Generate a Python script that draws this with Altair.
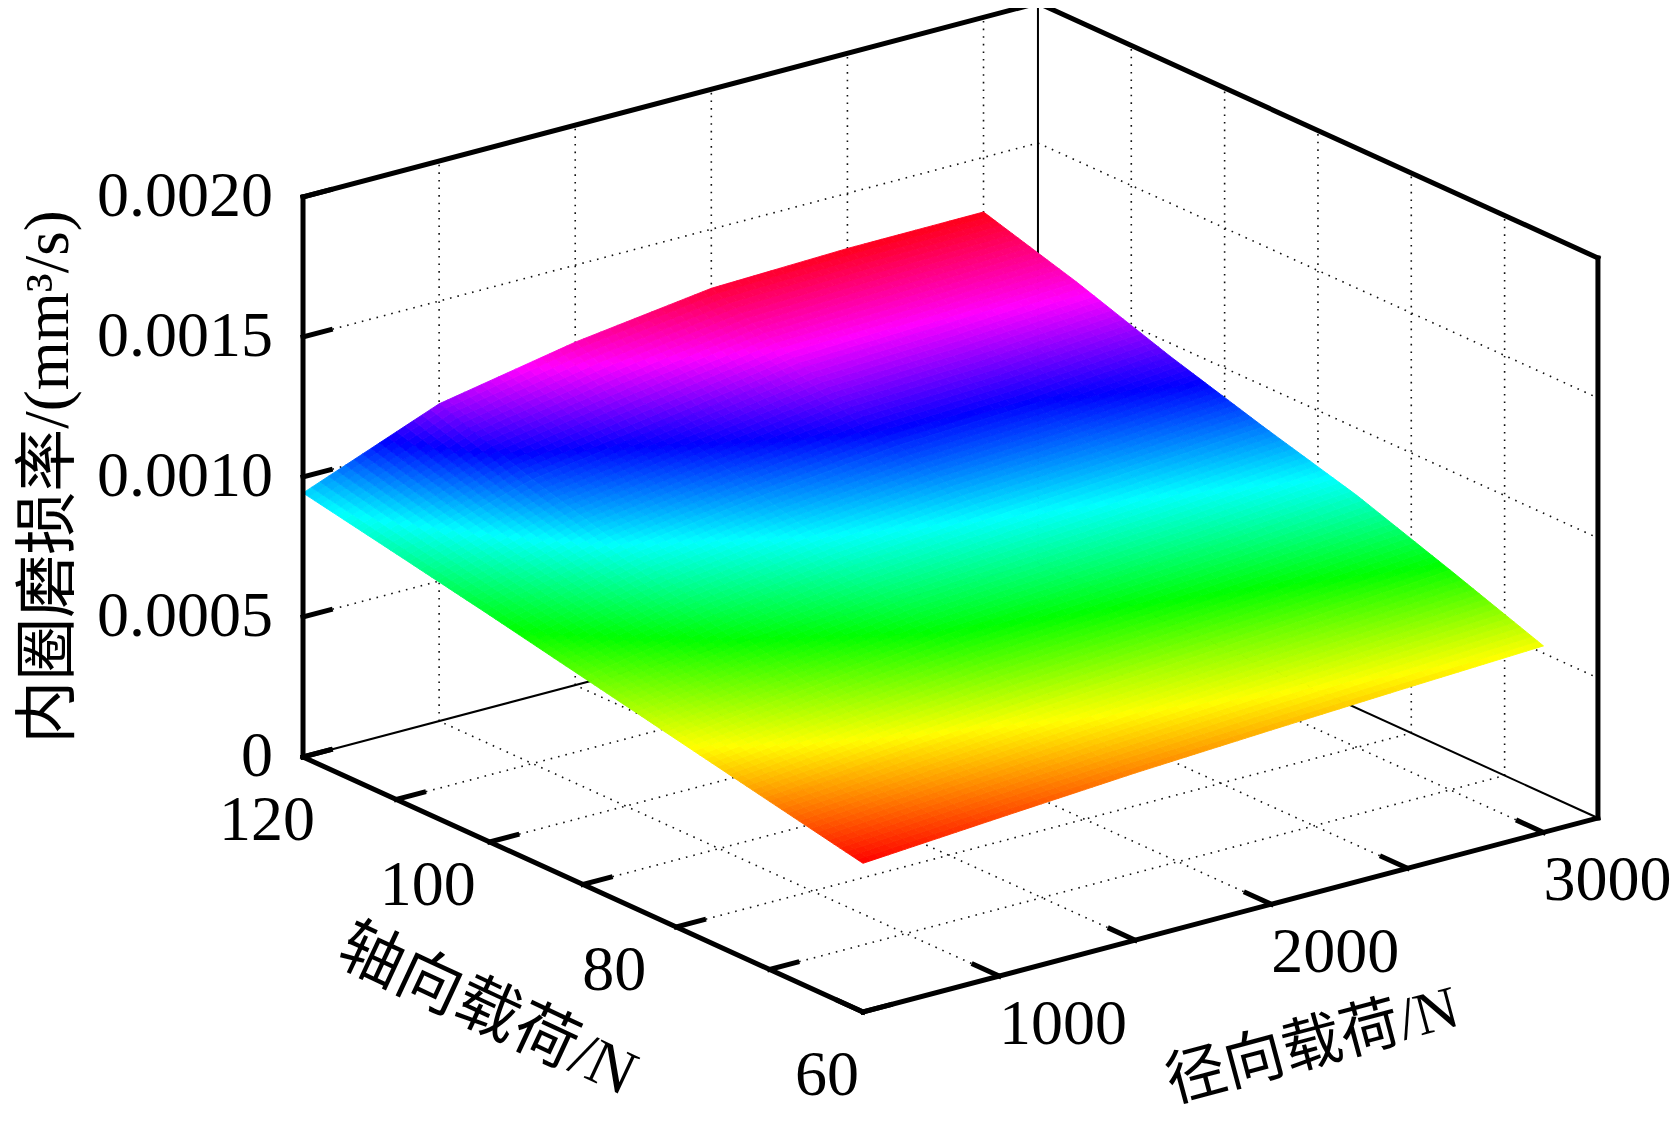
import colorsys
import numpy as np
import pandas as pd
import altair as alt

# ---------------- data ----------------
AXIAL = [60, 70, 80, 90, 100, 110, 120]            # 轴向载荷 / N
RADIAL = [500, 1000, 1500, 2000, 2500, 3000]       # 径向载荷 / N
# 内圈磨损率 (mm^3/s), one list per axial load, values along RADIAL
WEAR_A60 = [0.000531, 0.000565, 0.000597, 0.000622, 0.000645, 0.000666]
WEAR_A70 = [0.000600, 0.000640, 0.000678, 0.000712, 0.000747, 0.000785]
WEAR_A80 = [0.000670, 0.000730, 0.000790, 0.000823, 0.000857, 0.000900]
WEAR_A90 = [0.000740, 0.000821, 0.000885, 0.000925, 0.000957, 0.000993]
WEAR_A100 = [0.000810, 0.000916, 0.000980, 0.001031, 0.001052, 0.001093]
WEAR_A110 = [0.000877, 0.001015, 0.001084, 0.001158, 0.001177, 0.001206]
WEAR_A120 = [0.000943, 0.001133, 0.001225, 0.001289, 0.001303, 0.001305]
WEAR = [WEAR_A60, WEAR_A70, WEAR_A80, WEAR_A90, WEAR_A100, WEAR_A110, WEAR_A120]

AXIAL_LIM = [60, 120]
RADIAL_LIM = [500, 3200]
Z_LIM = [0.0, 0.002]
AXIAL_TICKS = [60, 70, 80, 90, 100, 110, 120]
AXIAL_LABELS = ["60", "80", "100", "120"]
RADIAL_TICKS = [500, 1000, 1500, 2000, 2500, 3000]
RADIAL_LABELS = ["1000", "2000", "3000"]
Z_TICKS = [0.0, 0.0005, 0.0010, 0.0015, 0.0020]
Z_LABELS = ["0", "0.0005", "0.0010", "0.0015", "0.0020"]
Z_TITLE = "内圈磨损率/(mm³/s)"
AXIAL_TITLE = "轴向载荷/N"
RADIAL_TITLE = "径向载荷/N"

# ---------------- orthographic 3-D view (layout) ----------------
ORIGIN = (863.0, 1012.0)          # screen point of (60 N, 500 N, 0)
PER_AXIAL = (-9.333, -4.25)       # screen shift per +1 N axial
PER_RADIAL = (0.2722, -0.07185)   # screen shift per +1 N radial
PER_Z = -280000.0                 # screen y per +1 mm^3/s


def proj(a, r, z):
    da = a - AXIAL_LIM[0]
    dr = r - RADIAL_LIM[0]
    x = ORIGIN[0] + da * PER_AXIAL[0] + dr * PER_RADIAL[0]
    y = ORIGIN[1] + da * PER_AXIAL[1] + dr * PER_RADIAL[1] + z * PER_Z
    return round(x, 2), round(y, 2)


# ---------------- surface (MATLAB "shading interp" emulation) ----------------
A = np.array(AXIAL, float)
R = np.array(RADIAL, float)
Z = np.array(WEAR, float)
NSUB = 16
poly_rows = []
pid = 0
for i in reversed(range(len(A) - 1)):
    for j in reversed(range(len(R) - 1)):
        z00, z10, z01, z11 = Z[i, j], Z[i + 1, j], Z[i, j + 1], Z[i + 1, j + 1]

        def bil(s, t):
            return z00 * (1 - s) * (1 - t) + z10 * s * (1 - t) + z01 * (1 - s) * t + z11 * s * t

        for p in range(NSUB):
            for q in range(NSUB):
                s0, s1 = p / NSUB, (p + 1) / NSUB
                t0, t1 = q / NSUB, (q + 1) / NSUB
                val = round(bil((s0 + s1) / 2, (t0 + t1) / 2), 8)
                for k, (s, t) in enumerate([(s0, t0), (s1, t0), (s1, t1), (s0, t1)]):
                    a = A[i] + s * (A[i + 1] - A[i])
                    r = R[j] + t * (R[j + 1] - R[j])
                    x, y = proj(a, r, bil(s, t))
                    poly_rows.append({"pid": pid, "k": k, "x": x, "y": y, "v": val})
                pid += 1
surf_df = pd.DataFrame(poly_rows)

# MATLAB hsv colormap spread over the data range
zmin, zmax = float(Z.min()), float(Z.max())
HUE_TOP = 63.0 / 64.0
stops, cols = [], []
for h in [0, 1 / 6, 2 / 6, 3 / 6, 4 / 6, 5 / 6, HUE_TOP]:
    rr, gg, bb = colorsys.hsv_to_rgb(h, 1.0, 1.0)
    stops.append(zmin + (zmax - zmin) * h / HUE_TOP)
    cols.append("#%02x%02x%02x" % (int(round(rr * 255)), int(round(gg * 255)), int(round(bb * 255))))
cscale = alt.Scale(type="linear", domain=stops, range=cols, interpolate="rgb")

# ---------------- box, grid, ticks ----------------
a0, a1 = AXIAL_LIM
r0, r1 = RADIAL_LIM
zb, zt = Z_LIM


def seg(p, q, kind):
    x, y = proj(*p)
    x2, y2 = proj(*q)
    return {"x": x, "y": y, "x2": x2, "y2": y2, "kind": kind}


segs = []
for a in AXIAL_TICKS:
    if a0 < a < a1:
        segs.append(seg((a, r0, zb), (a, r1, zb), "grid"))
        segs.append(seg((a, r1, zb), (a, r1, zt), "grid"))
for r in RADIAL_TICKS:
    if r0 < r < r1:
        segs.append(seg((a0, r, zb), (a1, r, zb), "grid"))
        segs.append(seg((a1, r, zb), (a1, r, zt), "grid"))
for z in Z_TICKS:
    if zb < z < zt:
        segs.append(seg((a1, r0, z), (a1, r1, z), "grid"))
        segs.append(seg((a1, r1, z), (a0, r1, z), "grid"))
segs.append(seg((a1, r0, zb), (a1, r1, zb), "thin"))
segs.append(seg((a0, r1, zb), (a1, r1, zb), "thin"))
segs.append(seg((a1, r1, zb), (a1, r1, zt), "thin"))
segs.append(seg((a0, r0, zb), (a1, r0, zb), "thick"))
segs.append(seg((a0, r0, zb), (a0, r1, zb), "thick"))
segs.append(seg((a1, r0, zb), (a1, r0, zt), "thick"))
segs.append(seg((a1, r0, zt), (a1, r1, zt), "thick"))
segs.append(seg((a1, r1, zt), (a0, r1, zt), "thick"))
segs.append(seg((a0, r1, zb), (a0, r1, zt), "thick"))
TICK_R = 100.0
TICK_A = 2.7
for a in AXIAL_TICKS:
    segs.append(seg((a, r0, zb), (a, r0 + TICK_R, zb), "thick"))
for r in RADIAL_TICKS:
    segs.append(seg((a0, r, zb), (a0 + TICK_A, r, zb), "thick"))
for z in Z_TICKS:
    segs.append(seg((a1, r0, z), (a1, r0 + TICK_R, z), "thick"))
seg_df = pd.DataFrame(segs)

# ---------------- texts ----------------
texts = []
for lab in Z_LABELS:
    x, y = proj(a1, r0, float(lab))
    texts.append({"x": x - 30, "y": y, "t": lab, "al": "right", "ang": 0, "fs": 64})
for lab in AXIAL_LABELS:
    x, y = proj(float(lab), r0, zb)
    at_corner = float(lab) in (a0, a1)          # corner labels sit lower, clear of the z labels
    dx, dy = (-36, 64) if at_corner else (-62, 44)
    texts.append({"x": x + dx, "y": y + dy, "t": lab, "al": "center", "ang": 0, "fs": 64})
for lab in RADIAL_LABELS:
    x, y = proj(a0, float(lab), zb)
    texts.append({"x": x + 64, "y": y + 49, "t": lab, "al": "center", "ang": 0, "fs": 64})
x, y = proj(a1, r0, (zb + zt) / 2)
texts.append({"x": x - 254, "y": y, "t": Z_TITLE, "al": "center", "ang": 270, "fs": 63})
x, y = proj((a0 + a1) / 2, r0, zb)
texts.append({"x": x - 96, "y": y + 127, "t": AXIAL_TITLE, "al": "center", "ang": 25, "fs": 64})
x, y = proj(a0, 1850, zb)
texts.append({"x": x + 82, "y": y + 131, "t": RADIAL_TITLE, "al": "center", "ang": 345, "fs": 60})
text_df = pd.DataFrame(texts)

# ---------------- chart ----------------
W, H = 1662, 1112
xs = alt.Scale(domain=[8, 8 + W], nice=False, zero=False)
ys = alt.Scale(domain=[8, 8 + H], nice=False, zero=False, reverse=True)
X = alt.X("x:Q", scale=xs, axis=None)
Y = alt.Y("y:Q", scale=ys, axis=None)

base_seg = alt.Chart(seg_df).encode(x=X, y=Y, x2="x2:Q", y2="y2:Q")
grid = base_seg.transform_filter(alt.datum.kind == "grid").mark_rule(
    color="#111111", strokeWidth=1.6, strokeDash=[1.6, 6])
thin = base_seg.transform_filter(alt.datum.kind == "thin").mark_rule(
    color="black", strokeWidth=2)
thick = base_seg.transform_filter(alt.datum.kind == "thick").mark_rule(
    color="black", strokeWidth=5, strokeCap="square")

surface = alt.Chart(surf_df).mark_line(strokeWidth=0.9, interpolate="linear-closed").encode(
    x=X, y=Y,
    order="k:Q",
    detail="pid:N",
    fill=alt.Fill("v:Q", scale=cscale, legend=None),
    stroke=alt.Stroke("v:Q", scale=cscale, legend=None),
)

FONT = "Liberation Serif, Noto Sans CJK SC"
label_layers = []
for al in ["right", "center"]:
    for ang in [0, 270, 25, 345]:
        sub = text_df[(text_df["al"] == al) & (text_df["ang"] == ang)]
        if len(sub) == 0:
            continue
        label_layers.append(
            alt.Chart(sub).mark_text(
                font=FONT, fontSize=int(sub["fs"].iloc[0]), color="black",
                align=al, baseline="middle", angle=ang
            ).encode(x=X, y=Y, text="t:N")
        )

chart = alt.layer(grid, thin, surface, thick, *label_layers).properties(
    width=W, height=H, padding=0, autosize=alt.AutoSizeParams(type="none"),
    background="white",
).configure_view(strokeWidth=0)

chart.save("out.html", embed_options={"renderer": "svg", "actions": False})
